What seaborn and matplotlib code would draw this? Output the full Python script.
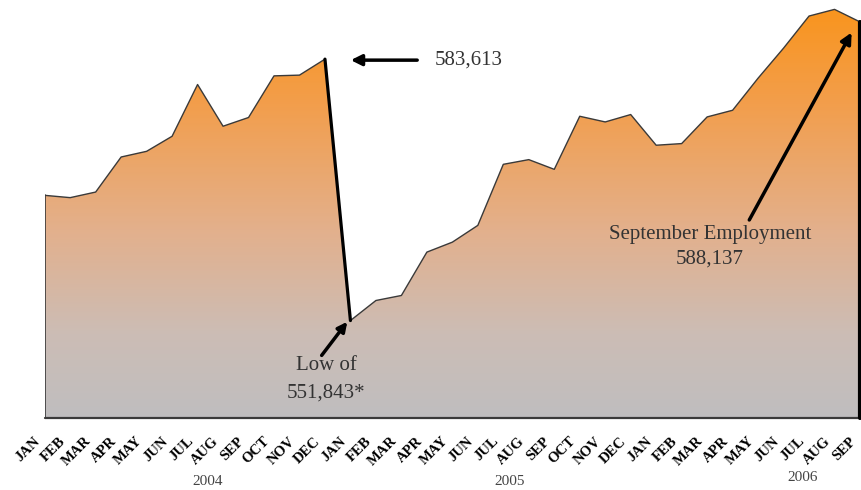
import numpy as np
import pandas as pd
import matplotlib
matplotlib.use("Agg")
import matplotlib.pyplot as plt
from matplotlib.transforms import ScaledTranslation, blended_transform_factory
from matplotlib.colors import LinearSegmentedColormap
import seaborn as sns

# ---- data ----
months = ["JAN", "FEB", "MAR", "APR", "MAY", "JUN", "JUL", "AUG", "SEP", "OCT", "NOV", "DEC",
          "JAN", "FEB", "MAR", "APR", "MAY", "JUN", "JUL", "AUG", "SEP", "OCT", "NOV", "DEC",
          "JAN", "FEB", "MAR", "APR", "MAY", "JUN", "JUL", "AUG", "SEP"]
employment = [567060, 566780, 567460, 571720, 572410, 574240, 580530, 575460, 576520, 581580, 581670, 583613,
              551843, 554280, 554890, 560160, 561370, 563410, 570830, 571400, 570220, 576670, 575980, 576880,
              573150, 573350, 576590, 577400, 581300, 584950, 588850, 589660, 588137]
years = ["2004", "2005", "2006"]
year_label_x = [6.4, 18.25, 29.75]

df = pd.DataFrame({"idx": np.arange(len(employment)), "employment": employment})

sns.set_theme(style="white")
plt.rcParams["font.family"] = ["Liberation Serif", "DejaVu Serif"]

fig = plt.figure(figsize=(8.62, 4.90), dpi=100)
ax = fig.add_axes([44.7 / 862, 1 - 418 / 490, (860 - 44.7) / 862, 418 / 490])
ymin, ymax = 540000, 590800
ax.set_xlim(0, len(employment) - 1)
ax.set_ylim(ymin, ymax)

# gradient fill clipped to the area
poly = ax.fill_between(df["idx"], df["employment"], ymin, color="none", lw=0)
cmap = LinearSegmentedColormap.from_list(
    "og", [(0.0, (0.98, 0.58, 0.10)), (0.25, (0.95, 0.62, 0.30)),
           (0.55, (0.89, 0.69, 0.55)), (0.8, (0.80, 0.74, 0.71)), (1.0, (0.75, 0.745, 0.75))])
grad = np.linspace(0, 1, 256).reshape(-1, 1)
im = ax.imshow(grad, cmap=cmap, aspect="auto", extent=[0, len(employment) - 1, ymin, ymax],
               origin="upper", zorder=1)
im.set_clip_path(poly.get_paths()[0], transform=ax.transData)

# outline
sns.lineplot(data=df, x="idx", y="employment", color="#3a3a3a", lw=1.0, ax=ax, zorder=3)
ax.plot([0, 0], [ymin, employment[0]], color="#3a3a3a", lw=1.2, zorder=3)
ax.plot([0, len(employment) - 1], [ymin, ymin], color="#3a3a3a", lw=1.6, zorder=3, clip_on=False)
ax.plot([11, 12], [employment[11], employment[12]], color="black", lw=2.3, zorder=4)
ax.plot([len(employment) - 1] * 2, [ymin, employment[-1]], color="black", lw=3.0, zorder=4, clip_on=False)

for s in ax.spines.values():
    s.set_visible(False)
ax.set_yticks([])
ax.set_xlabel("")
ax.set_ylabel("")

ax.set_xticks(df["idx"])
ax.set_xticklabels(months, rotation=45, ha="right", va="top", rotation_mode="anchor",
                   fontsize=10.5, fontweight="bold", color="black")
ax.tick_params(axis="x", length=0, pad=12)
for lab in ax.get_xticklabels():
    lab.set_transform(lab.get_transform() + ScaledTranslation(-11 / 100, 0, fig.dpi_scale_trans))

trans = blended_transform_factory(ax.transData, fig.transFigure)
for yl, xx, yy in zip(years, year_label_x, [0.018, 0.017, 0.026]):
    ax.text(xx, yy, yl, transform=trans, ha="center", va="center", fontsize=11, color="#444444")

def px2d(px, py):
    return ((px - 44.7) / 25.48, 590794 - 121.72 * py)

tc = "#333333"
fs = 15
# Peak annotation
ax.annotate("", xy=px2d(348, 60), xytext=px2d(420, 60),
            arrowprops=dict(arrowstyle="-|>", lw=2.5, color="black", mutation_scale=16), zorder=5)
ax.text(*px2d(435, 60), "583,613", ha="left", va="center", fontsize=fs, color=tc)
# Low annotation
ax.annotate("", xy=px2d(349, 319), xytext=px2d(320, 357),
            arrowprops=dict(arrowstyle="-|>", lw=2.5, color="black", mutation_scale=14), zorder=5)
ax.text(*px2d(326, 365), "Low of", ha="center", va="center", fontsize=fs, color=tc)
ax.text(*px2d(326, 392), "551,843*", ha="center", va="center", fontsize=fs, color=tc)
# September annotation
ax.annotate("", xy=px2d(853, 30), xytext=px2d(748, 222),
            arrowprops=dict(arrowstyle="-|>", lw=2.5, color="black", mutation_scale=16), zorder=5)
ax.text(*px2d(710, 234), "September Employment", ha="center", va="center", fontsize=fs, color=tc)
ax.text(*px2d(710, 259), "588,137", ha="center", va="center", fontsize=fs, color=tc)

fig.savefig("out.png", dpi=100)
